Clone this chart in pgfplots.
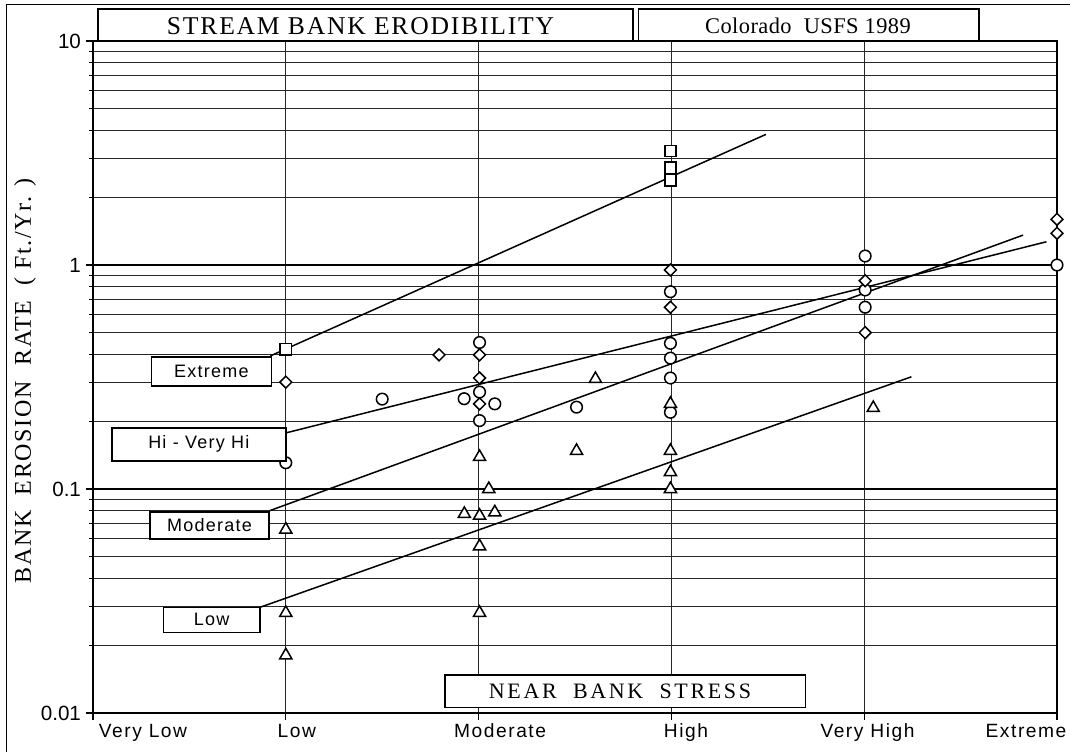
\documentclass[border=0pt]{standalone}
\usepackage{fontspec}
\setmainfont{Liberation Serif}
\setsansfont{Liberation Sans}
\newfontfamily\serifsp[LetterSpace=7]{Liberation Serif}
\newfontfamily\serifwide[LetterSpace=12]{Liberation Serif}
\newfontfamily\serifc[LetterSpace=2]{Liberation Serif}
\newfontfamily\sanssp[LetterSpace=8]{Liberation Sans}
\newfontfamily\sansbox[LetterSpace=7]{Liberation Sans}
\usepackage{pgfplots}
\pgfplotsset{compat=1.18}

\pgfplotstableread{
x y
1.000 0.421
2.995 3.23
2.995 2.72
2.995 2.39
}\squares
\pgfplotstableread{
x y
1.000 0.300
1.795 0.397
2.005 0.397
2.005 0.313
2.005 0.240
2.995 0.950
2.995 0.648
4.005 0.851
4.005 0.499
5.000 1.60
5.000 1.385
}\diamonds
\pgfplotstableread{
x y
1.000 0.131
1.500 0.252
2.005 0.451
2.005 0.271
1.925 0.253
2.084 0.240
2.005 0.202
2.508 0.232
2.995 0.760
2.995 0.447
2.995 0.384
2.995 0.313
2.995 0.220
4.005 1.097
4.005 0.774
4.005 0.648
5.000 1.000
}\circles
\pgfplotstableread{
x y
1.000 0.0659
1.000 0.0280
1.000 0.0181
2.005 0.139
2.053 0.100
1.926 0.0774
2.005 0.0760
2.084 0.0787
2.005 0.0555
2.005 0.0280
2.606 0.310
2.508 0.148
2.995 0.240
2.995 0.148
2.995 0.119
2.995 0.100
4.047 0.230
}\triangles

\begin{document}
\begin{tikzpicture}
\useasboundingbox (0,0) rectangle (535pt,376pt);
\begin{axis}[
  at={(46.5pt,19.5pt)}, anchor=south west,
  scale only axis, width=482pt, height=336pt,
  xmin=0, xmax=5, ymin=0.01, ymax=10, ymode=log,
  xtick={0,1,2,3,4,5},
  xticklabels={\hspace{50pt}Very Low,\hspace{11pt}Low,\hspace{21.5pt}Moderate,\hspace{14.5pt}High,\hspace{3.3pt}Very High,Extreme\rule{31pt}{0pt}},
  xticklabel style={font=\fontsize{9.6}{11}\selectfont\sanssp, yshift=1.5pt},
  ytick={0.01,0.1,1,10},
  yticklabels={\textsf{0.01},\textsf{0.1},\textsf{1},\textsf{10}},
  yticklabel style={font=\fontsize{10.3}{12}\selectfont\sffamily, xshift=1pt},
  minor ytick={0.02,0.03,0.04,0.05,0.06,0.07,0.08,0.09,0.2,0.3,0.4,0.5,0.6,0.7,0.8,0.9,2,3,4,5,6,7,8,9},
  ymajorgrids, yminorgrids, xmajorgrids,
  major y grid style={line width=1pt, black},
  minor y grid style={line width=0.5pt, black!85},
  major x grid style={line width=0.55pt, black!85},
  xtick pos=bottom, ytick pos=left,
  tick align=outside,
  major tick length=3.5pt, minor tick length=2pt,
  tick style={black, line width=0.6pt},
  axis line style={line width=0.6pt},
  clip=false,
]
% fitted lines
\addplot[black, line width=0.75pt] coordinates {(0.92,0.393) (3.49,3.83)};
\addplot[black, line width=0.75pt] coordinates {(1.0,0.178) (4.945,1.27)};
\addplot[black, line width=0.75pt] coordinates {(0.916,0.080) (4.824,1.36)};
\addplot[black, line width=0.75pt] coordinates {(0.869,0.0297) (4.245,0.317)};
% markers
\addplot[only marks, mark=*, mark size=2.9pt, mark options={fill=white, draw=black, line width=0.75pt}] table {\circles};
\addplot[only marks, mark=square*, mark size=2.8pt, mark options={fill=white, draw=black, line width=0.75pt}] table {\squares};
\addplot[only marks, mark=square*, mark size=2.1pt, mark options={rotate=45, fill=white, draw=black, line width=0.75pt}] table {\diamonds};
\addplot[only marks, mark=triangle*, mark size=3.5pt, mark options={fill=white, draw=black, line width=0.75pt}] table {\triangles};
% heavier left, bottom, top axis lines
\draw[line width=1.1pt] (rel axis cs:0,0) -- (rel axis cs:0,1);
\draw[line width=1.1pt] (rel axis cs:0,0) -- (rel axis cs:1,0);
\draw[line width=1.1pt] (rel axis cs:0,1) -- (rel axis cs:1,1);
\end{axis}
\begin{scope}[x=0.5pt, y=-0.5pt, shift={(0,376pt)}]
  % outer frame (top and left)
  \draw[line width=0.6pt] (6.2,4.7) -- (1070,4.7);
  \draw[line width=0.6pt] (6.2,4.7) -- (6.2,752);
  % title boxes
  \draw[line width=0.9pt, fill=white] (98.1,9.3) rectangle (632.6,40.5);
  \node[font=\fontsize{12.8}{14}\selectfont\serifsp] at (360.5,26) {STREAM BANK ERODIBILITY};
  \draw[line width=0.9pt, fill=white] (638.5,9.3) rectangle (979.3,40.5);
  \node[font=\fontsize{11.2}{13}\selectfont\serifc] at (808,26) {Colorado\ \ USFS 1989};
  % near bank stress box
  \draw[line width=0.8pt, fill=white] (445.2,675) rectangle (805.4,707.3);
  \node[font=\fontsize{11}{13}\selectfont\serifwide] at (620,691.5) {NEAR\ \ BANK\ \ STRESS};
  % label boxes
  \draw[line width=0.8pt, fill=white] (151.5,356.7) rectangle (271.3,385.7);
  \node[font=\fontsize{9}{10}\selectfont\sansbox] at (211.4,371.2) {Extreme};
  \draw[line width=0.8pt, fill=white] (111.9,428) rectangle (285.8,460.7);
  \node[font=\fontsize{9}{10}\selectfont\sansbox] at (198.8,444.3) {Hi - Very Hi};
  \draw[line width=0.8pt, fill=white] (149.8,511.7) rectangle (269.2,538.7);
  \node[font=\fontsize{9}{10}\selectfont\sansbox] at (209.5,525.2) {Moderate};
  \draw[line width=0.8pt, fill=white] (163.5,607.3) rectangle (260,632.3);
  \node[font=\fontsize{9}{10}\selectfont\sansbox] at (211.7,619.8) {Low};
  % y label
  \node[rotate=90, font=\fontsize{12}{14}\selectfont\serifsp] at (25,381) {BANK\ \ EROSION\ \ RATE\ \ ( Ft./Yr. )};
\end{scope}
\end{tikzpicture}
\end{document}
